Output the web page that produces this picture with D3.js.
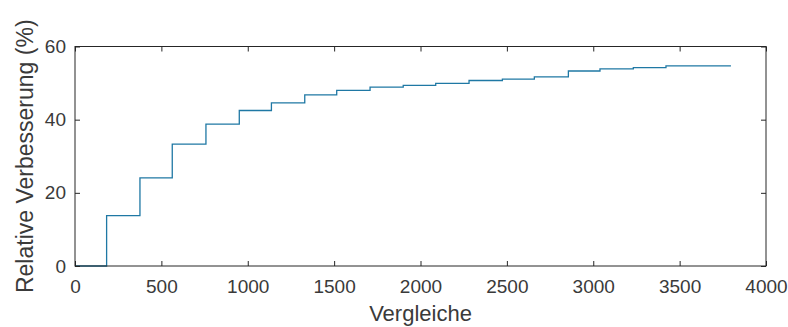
<!DOCTYPE html>
<html>
<head>
<meta charset="utf-8">
<script src="https://cdn.jsdelivr.net/npm/d3@7"></script>
<style>
  body { margin: 0; background: #fff; }
  text { font-family: "Liberation Sans", Arial, sans-serif; }
</style>
</head>
<body>
<svg id="chart"></svg>
<script>
// step points: comparisons (x) vs. relative improvement in % (y)
let vergleiche = [0, 183, 376, 563, 758, 951, 1137, 1330, 1515, 1708, 1900,
  2088, 2281, 2474, 2659, 2856, 3039, 3232, 3421, 3797];
let verbesserung = [0, 13.75, 24.1, 33.3, 38.8, 42.5, 44.6, 46.8, 48.0, 48.9, 49.4,
  49.9, 50.7, 51.1, 51.7, 53.3, 53.9, 54.2, 54.7, 54.7];
let xTicks = [0, 500, 1000, 1500, 2000, 2500, 3000, 3500, 4000];
let yTicks = [0, 20, 40, 60];

let width = 788;
let height = 327;
let plotLeft = 75, plotRight = 766, plotTop = 46.5, plotBottom = 266;
let axisColor = '#262626';

let svg = d3.select('#chart').attr('width', width).attr('height', height);

let x = d3.scaleLinear().domain([0, 4000]).range([plotLeft, plotRight]);
let y = d3.scaleLinear().domain([0, 60]).range([plotBottom, plotTop]);

let data = vergleiche.map((v, i) => [v, verbesserung[i]]);

let line = d3.line()
  .x(d => x(d[0]))
  .y(d => y(d[1]))
  .curve(d3.curveStepAfter);

svg.append('path')
  .datum(data)
  .attr('d', line)
  .style('fill', 'none')
  .style('stroke', '#1f78a4')
  .style('stroke-width', 1.3);

// axes box with inward ticks on all four sides (MATLAB style)
let styleAxis = g => {
  g.select('.domain').remove();
  g.selectAll('.tick line').attr('stroke', axisColor);
  g.selectAll('.tick text')
    .attr('fill', '#3a3a3a')
    .style('font-size', '19px')
    .style('font-family', '"Liberation Sans", Arial, sans-serif');
};

svg.append('g')
  .attr('transform', `translate(0, ${plotBottom})`)
  .call(d3.axisBottom(x).tickValues(xTicks).tickSize(-5).tickPadding(14).tickFormat(d3.format('d')))
  .call(styleAxis);

svg.append('g')
  .attr('transform', `translate(0, ${plotTop})`)
  .call(d3.axisTop(x).tickValues(xTicks).tickSize(-5).tickFormat(''))
  .call(styleAxis);

svg.append('g')
  .attr('transform', `translate(${plotLeft}, 0)`)
  .call(d3.axisLeft(y).tickValues(yTicks).tickSize(-5).tickPadding(9))
  .call(styleAxis);

svg.append('g')
  .attr('transform', `translate(${plotRight}, 0)`)
  .call(d3.axisRight(y).tickValues(yTicks).tickSize(-5).tickFormat(''))
  .call(styleAxis);

svg.append('rect')
  .attr('x', plotLeft)
  .attr('y', plotTop)
  .attr('width', plotRight - plotLeft)
  .attr('height', plotBottom - plotTop)
  .style('fill', 'none')
  .style('stroke', axisColor)
  .style('stroke-width', 1);

svg.append('text')
  .attr('x', (plotLeft + plotRight) / 2)
  .attr('y', 321)
  .attr('text-anchor', 'middle')
  .attr('fill', '#3a3a3a')
  .style('font-size', '22px')
  .text('Vergleiche');

svg.append('text')
  .attr('transform', `translate(33, ${(plotTop + plotBottom) / 2}) rotate(-90)`)
  .attr('text-anchor', 'middle')
  .attr('fill', '#3a3a3a')
  .style('font-size', '23px')
  .text('Relative Verbesserung (%)');
</script>
</body>
</html>
